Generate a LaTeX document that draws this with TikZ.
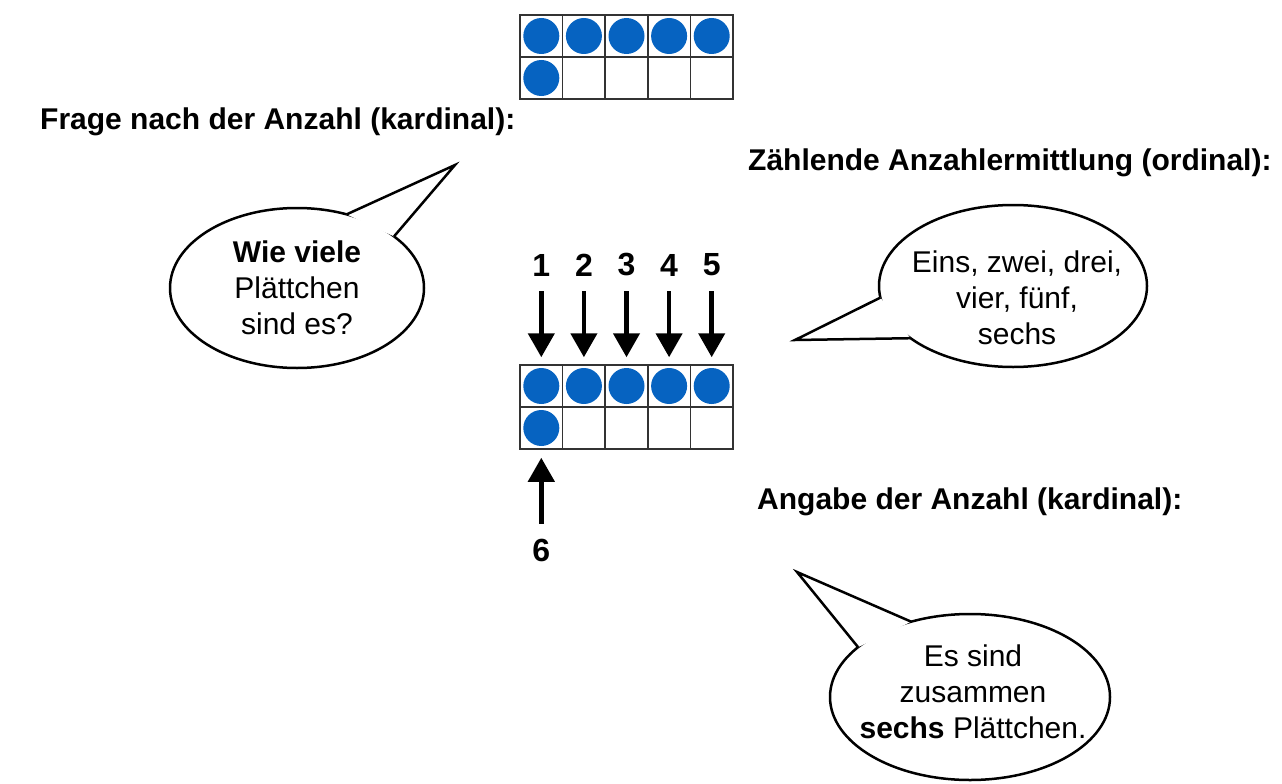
\documentclass[tikz,border=0pt]{standalone}
\usepackage{fontspec}
\setmainfont{Liberation Sans}
\usetikzlibrary{positioning,shapes.geometric,arrows.meta}
\definecolor{chip}{RGB}{6,99,193}

\begin{document}
\begin{tikzpicture}[x=1pt,y=-1pt,
  cell/.style={draw=black!80,line width=1.5pt,minimum width=42.6pt,
    minimum height=42pt,inner sep=0pt},
  chipdot/.style={fill=chip},
  head/.style={font=\fontsize{30}{36}\selectfont\bfseries,anchor=west,inner sep=0pt},
  num/.style={font=\fontsize{32}{36}\selectfont\bfseries,inner sep=0pt},
  arr/.style={line width=4.5pt,-{Triangle[width=26pt,length=24pt]}},
  bubble/.style={ellipse,draw,line width=2.5pt,fill=white,inner sep=0pt,outer sep=0pt},
  tail/.style={line width=2.5pt,line join=miter},
  talk/.style={font=\fontsize{30}{36}\selectfont,align=center,inner sep=0pt}]
  \useasboundingbox (0,0) rectangle (1282,784);
  % ten frames
  \foreach \f/\y in {a/36,b/386}
    \foreach \c in {1,...,5}{
      \node[cell] (\f-1-\c) at (520+42.6*\c-21.3,\y) {};
      \node[cell] (\f-2-\c) at (520+42.6*\c-21.3,\y+42) {};
      \fill[chipdot] (\f-1-\c) circle (18);
    }
  \fill[chipdot] (a-2-1) circle (18);
  \fill[chipdot] (b-2-1) circle (18);
  % counting arrows
  \foreach \i in {1,...,5}{
    \node[num,above=88pt of b-1-\i] (n\i) {\i};
    \draw[arr,shorten <=15pt,shorten >=7pt] (n\i) -- (b-1-\i);
  }
  \node[num,below=89pt of b-2-1] (n6) {6};
  \draw[arr,shorten <=15pt,shorten >=8pt] (n6) -- (b-2-1);
  % headings
  \node[head] (hq) at (40,122) {Frage nach der Anzahl (kardinal):};
  \node[head] (hr) at (748,163) {Zählende Anzahlermittlung (ordinal):};
  \node[head] (hs) at (757,502) {Angabe der Anzahl (kardinal):};
  % speech bubbles
  \node[bubble,minimum width=254pt,minimum height=160pt] (q) at (297,288) {};
  \coordinate (q-tip) at (455,165);
  \fill[white] (q.56) -- (q-tip) -- (q.28) -- cycle;
  \draw[tail] (q.56) -- (q-tip) -- (q.28);
  \node[talk] (qt) at (q) {\textbf{Wie viele}\\Plättchen\\sind es?};

  \node[bubble,minimum width=268pt,minimum height=162pt] (r) at (1013,286) {};
  \coordinate (r-tip) at (795,340);
  \fill[white] (r.185) -- (r-tip) -- (r.207) -- cycle;
  \draw[tail] (r.185) -- (r-tip) -- (r.207);
  \node[talk] (rt) at ([shift={(4pt,-12pt)}]r.center) {Eins, zwei, drei,\\vier, fünf,\\sechs};

  \node[bubble,minimum width=280pt,minimum height=166pt] (s) at (970,697) {};
  \coordinate (s-tip) at (797,572);
  \fill[white] (s.128) -- (s-tip) -- (s.156) -- cycle;
  \draw[tail] (s.128) -- (s-tip) -- (s.156);
  \node[talk] (st) at ([shift={(3pt,5pt)}]s.center) {Es sind\\zusammen\\\textbf{sechs} Plättchen.};
\end{tikzpicture}
\end{document}
